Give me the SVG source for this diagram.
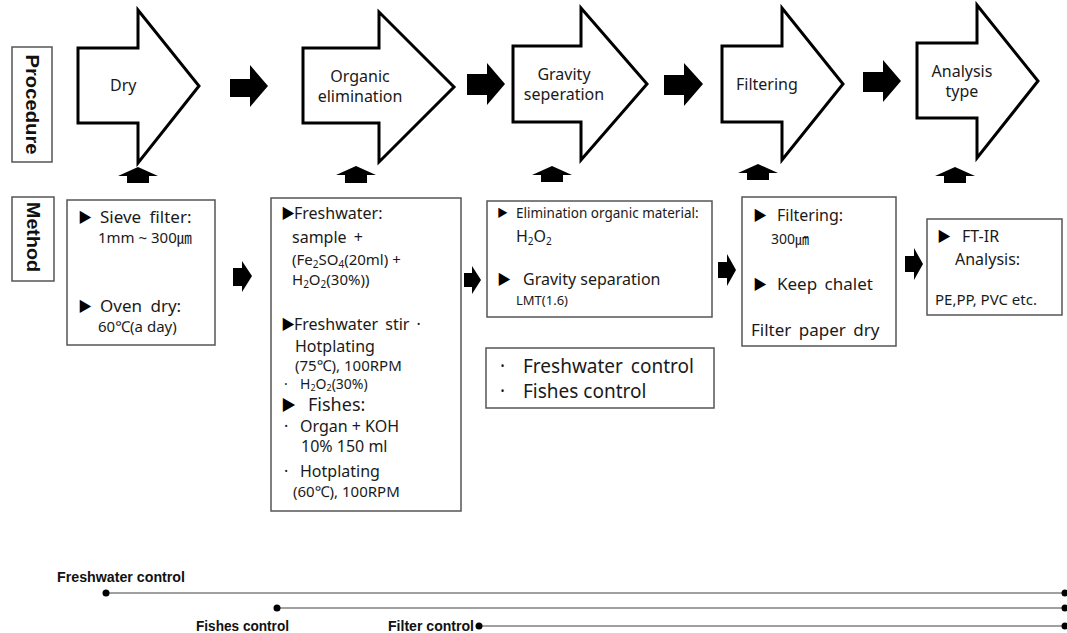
<svg xmlns="http://www.w3.org/2000/svg" width="1067" height="633" viewBox="0 0 1067 633">
<style>
.bg{fill:#fff}
.big{fill:#fff;stroke:#000;stroke-width:3;stroke-linejoin:miter}
.blk{fill:#000}
.box{fill:#fff;stroke:#555;stroke-width:1.5}
.t{font-family:"Noto Sans","Noto Sans CJK KR",sans-serif;fill:#1a1a1a}
.tri{font-family:"Noto Sans CJK KR","DejaVu Sans",sans-serif;fill:#000}
.lab{font-family:"Liberation Sans","Noto Sans",sans-serif;font-weight:bold;fill:#111}
.ln{stroke:#808080;stroke-width:1.5;fill:none}
.dot{fill:#000}
</style>
<rect class="bg" x="0" y="0" width="1067" height="633"/>

<g id="label-procedure">
<rect class="box" x="12" y="47" width="40" height="115"/>
<text class="lab" transform="translate(32,104.5) rotate(90)" text-anchor="middle" dominant-baseline="central" font-size="18" textLength="100" lengthAdjust="spacingAndGlyphs">Procedure</text>
</g>
<g id="label-method">
<rect class="box" x="12" y="197" width="42" height="84"/>
<text class="lab" transform="translate(33,237) rotate(90)" text-anchor="middle" dominant-baseline="central" font-size="18" textLength="70" lengthAdjust="spacingAndGlyphs">Method</text>
</g>

<g id="step-dry">
<path class="big" d="M78,48 H138 V10 L199,86 L138,163 V123 H78 Z"/>
<text class="t" x="110" y="91" font-size="16">Dry</text>
</g>
<g id="step-organic">
<path class="big" d="M303,48 H379 V12 L454,87 L379,162 V123 H303 Z"/>
<text class="t" x="360" y="82" font-size="16" text-anchor="middle">Organic</text>
<text class="t" x="360" y="102" font-size="16" text-anchor="middle">elimination</text>
</g>
<g id="step-gravity">
<path class="big" d="M513,46 H581 V8 L647,84 L581,160 V122 H513 Z"/>
<text class="t" x="564" y="80" font-size="16" text-anchor="middle">Gravity</text>
<text class="t" x="564" y="100" font-size="16" text-anchor="middle">seperation</text>
</g>
<g id="step-filtering">
<path class="big" d="M722,46 H782 V8 L843,84 L782,160 V122 H722 Z"/>
<text class="t" x="736" y="90" font-size="16">Filtering</text>
</g>
<g id="step-analysis">
<path class="big" d="M917,43 H977 V5 L1038,81 L977,158 V118 H917 Z"/>
<text class="t" x="962" y="77" font-size="16" text-anchor="middle">Analysis</text>
<text class="t" x="962" y="97" font-size="16" text-anchor="middle">type</text>
</g>

<g id="method-dry">
<rect class="box" x="67" y="200" width="148" height="145"/>
<text class="tri" x="78" y="222" font-size="14">▶</text>
<text class="t" x="100" y="223" font-size="17" word-spacing="4">Sieve filter:</text>
<text class="t" x="98" y="243" font-size="15">1mm ~ 300㎛</text>
<text class="tri" x="78" y="311" font-size="14">▶</text>
<text class="t" x="100" y="312" font-size="17" word-spacing="4">Oven dry:</text>
<text class="t" x="98" y="332" font-size="15">60℃(a day)</text>
</g>

<g id="method-organic">
<rect class="box" x="271" y="198" width="190" height="313"/>
<text class="tri" x="281" y="218" font-size="14">▶</text>
<text class="t" x="294" y="219" font-size="16">Freshwater:</text>
<text class="t" x="292" y="243" font-size="16" word-spacing="3">sample +</text>
<text class="t" x="292" y="265" font-size="15">(Fe<tspan font-size="10" dy="3">2</tspan><tspan dy="-3">SO</tspan><tspan font-size="10" dy="3">4</tspan><tspan dy="-3">(20ml) +</tspan></text>
<text class="t" x="292" y="285" font-size="15">H<tspan font-size="10" dy="3">2</tspan><tspan dy="-3">O</tspan><tspan font-size="10" dy="3">2</tspan><tspan dy="-3">(30%))</tspan></text>
<text class="tri" x="281" y="329" font-size="14">▶</text>
<text class="t" x="294" y="330" font-size="16" word-spacing="3">Freshwater stir ·</text>
<text class="t" x="295" y="352" font-size="16">Hotplating</text>
<text class="t" x="295" y="371" font-size="15">(75℃), 100RPM</text>
<text class="t" x="284" y="389" font-size="14">·</text>
<text class="t" x="300" y="389" font-size="14">H<tspan font-size="9" dy="2">2</tspan><tspan dy="-2">O</tspan><tspan font-size="9" dy="2">2</tspan><tspan dy="-2">(30%)</tspan></text>
<text class="tri" x="281" y="410" font-size="15">▶</text>
<text class="t" x="308" y="411" font-size="18">Fishes:</text>
<text class="t" x="284" y="432" font-size="16">·</text>
<text class="t" x="300" y="432" font-size="16">Organ + KOH</text>
<text class="t" x="301" y="452" font-size="16">10% 150 ml</text>
<text class="t" x="284" y="477" font-size="16">·</text>
<text class="t" x="300" y="477" font-size="16">Hotplating</text>
<text class="t" x="293" y="497" font-size="15">(60℃), 100RPM</text>
</g>

<g id="method-gravity">
<rect class="box" x="487" y="201" width="225" height="116"/>
<text class="tri" x="497" y="217" font-size="11">▶</text>
<text class="t" x="516" y="218" font-size="13.5">Elimination organic material:</text>
<text class="t" x="516" y="242" font-size="16">H<tspan font-size="10" dy="3">2</tspan><tspan dy="-3">O</tspan><tspan font-size="10" dy="3">2</tspan></text>
<text class="tri" x="497" y="284" font-size="14">▶</text>
<text class="t" x="523" y="285" font-size="16">Gravity separation</text>
<text class="t" x="516" y="305" font-size="13">LMT(1.6)</text>
</g>

<g id="control-box">
<rect class="box" x="486" y="348" width="228" height="60"/>
<text class="t" x="500" y="373" font-size="19">·</text>
<text class="t" x="523" y="373" font-size="19" word-spacing="3">Freshwater control</text>
<text class="t" x="500" y="398" font-size="19">·</text>
<text class="t" x="523" y="398" font-size="19">Fishes control</text>
</g>

<g id="method-filter">
<rect class="box" x="742" y="197" width="154" height="149"/>
<text class="tri" x="753" y="220" font-size="14">▶</text>
<text class="t" x="777" y="221" font-size="16">Filtering:</text>
<text class="t" x="771" y="244" font-size="14">300㎛</text>
<text class="tri" x="753" y="289" font-size="14">▶</text>
<text class="t" x="777" y="290" font-size="17" word-spacing="3">Keep chalet</text>
<text class="t" x="751" y="336" font-size="17" word-spacing="3">Filter paper dry</text>
</g>

<g id="method-analysis">
<rect class="box" x="927" y="219" width="135" height="96"/>
<text class="tri" x="937" y="241" font-size="14">▶</text>
<text class="t" x="962" y="242" font-size="16">FT-IR</text>
<text class="t" x="955" y="265" font-size="16">Analysis:</text>
<text class="t" x="935" y="305" font-size="15">PE,PP, PVC etc.</text>
</g>

<g id="connectors">
<path class="blk" d="M230,79 H250 V65 L268,86 L250,107 V97 H230 Z"/>
<path class="blk" d="M467,74 H487 V63 L505,84 L487,105 V95 H467 Z"/>
<path class="blk" d="M664,75 H684 V63 L703,84 L684,106 V95 H664 Z"/>
<path class="blk" d="M863,72 H883 V60 L901,81 L883,102 V92 H863 Z"/>
<path class="blk" d="M118,176 L138,167 L158,176 H149 V183 H127 V176 Z"/>
<path class="blk" d="M336,175 L356,166 L376,175 H367 V183 H345 V175 Z"/>
<path class="blk" d="M532,175 L552,166 L572,175 H563 V182 H541 V175 Z"/>
<path class="blk" d="M738,173 L758,164 L778,173 H769 V180 H747 V173 Z"/>
<path class="blk" d="M935,176 L955,167 L975,176 H966 V183 H944 V176 Z"/>
<path class="blk" d="M233,268 H242 V261 L252,276 L242,292 V286 H233 Z"/>
<path class="blk" d="M464,273 H472 V266 L481,280 L472,294 V287 H464 Z"/>
<path class="blk" d="M718,262 H727 V254 L736,270 L727,286 V278 H718 Z"/>
<path class="blk" d="M905,256 H914 V248 L923,264 L914,280 V272 H905 Z"/>
</g>

<g id="timeline">
<line class="ln" x1="106" y1="593" x2="1065" y2="593"/>
<line class="ln" x1="277" y1="608" x2="1065" y2="608"/>
<line class="ln" x1="479" y1="626" x2="1065" y2="626"/>
<circle class="dot" cx="106" cy="593" r="3.5"/>
<circle class="dot" cx="1065" cy="593" r="3.5"/>
<circle class="dot" cx="277" cy="608" r="3.5"/>
<circle class="dot" cx="1065" cy="608" r="3.5"/>
<circle class="dot" cx="479" cy="626" r="3.5"/>
<circle class="dot" cx="1065" cy="626" r="3.5"/>
<text class="lab" x="57" y="582" font-size="15" textLength="128" lengthAdjust="spacingAndGlyphs">Freshwater control</text>
<text class="lab" x="196" y="631" font-size="15" textLength="93" lengthAdjust="spacingAndGlyphs">Fishes control</text>
<text class="lab" x="388" y="631" font-size="15" textLength="86" lengthAdjust="spacingAndGlyphs">Filter control</text>
</g>
</svg>
